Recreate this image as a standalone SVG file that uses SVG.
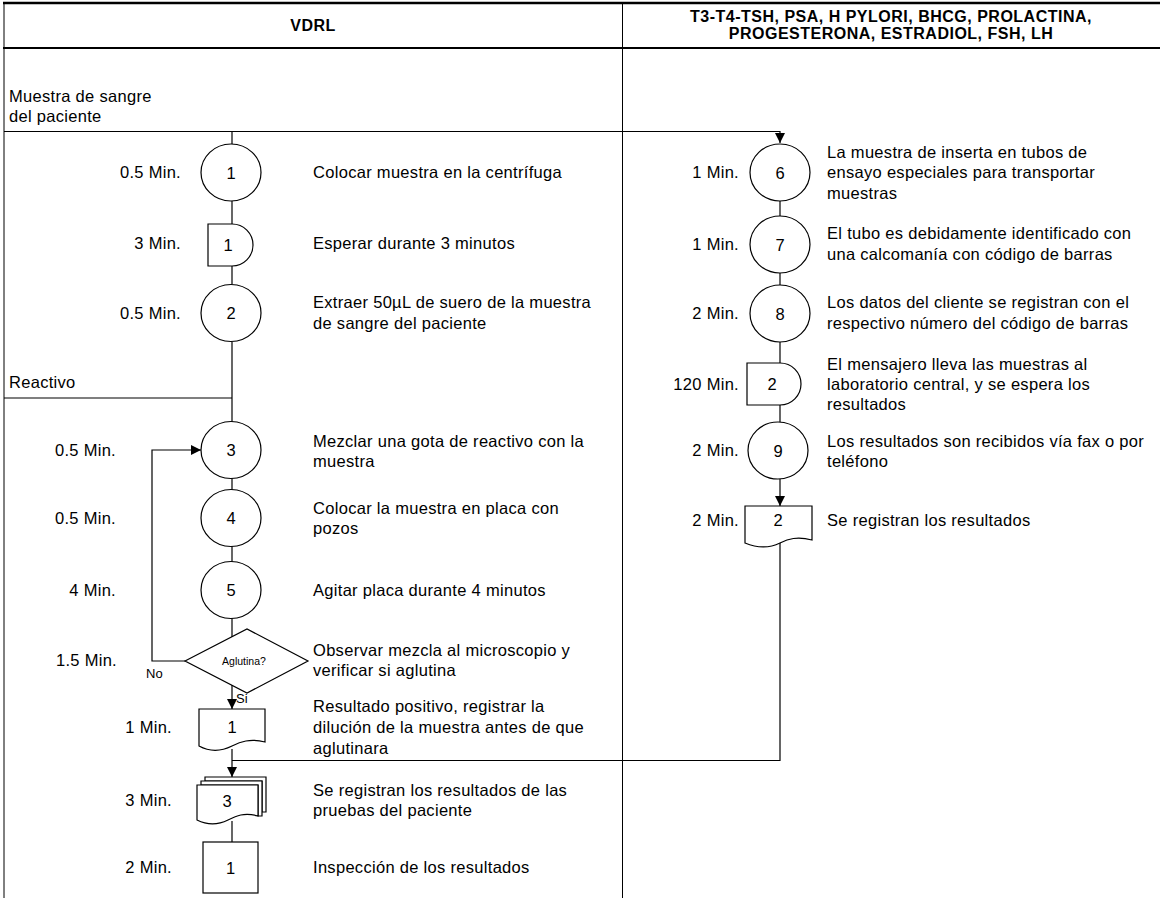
<svg xmlns="http://www.w3.org/2000/svg" width="1160" height="898" viewBox="0 0 1160 898">
<style>
text{font-family:"Liberation Sans",Arial,sans-serif;fill:#000}
.t{font-size:16.5px;letter-spacing:0.3px}
.tm{font-size:16.5px;letter-spacing:0.3px;text-anchor:end}
.n{font-size:16.5px;text-anchor:middle}
.h{font-size:16px;font-weight:bold;letter-spacing:0.5px;text-anchor:middle}
.l{font-size:13px}
.s{fill:#fff;stroke:#000;stroke-width:1.2}
.c{fill:none;stroke:#000;stroke-width:1.2}
.g{fill:none;stroke:#000;stroke-width:1}
</style>
<defs>
<marker id="ar" viewBox="0 0 10 10" refX="10" refY="5" markerWidth="10" markerHeight="10" markerUnits="userSpaceOnUse" orient="auto">
<path d="M0,0L10,5L0,10Z" fill="#000"/>
</marker>
</defs>
<rect width="1160" height="898" fill="#fff"/>
<g id="grid">
<line x1="3" y1="3" x2="1160" y2="3" stroke="#000" stroke-width="2.5"/>
<line x1="3" y1="48" x2="1160" y2="48" stroke="#000" stroke-width="2"/>
<line x1="4" y1="3" x2="4" y2="898" class="g"/>
<line x1="622.5" y1="3" x2="622.5" y2="898" class="g"/>
<text class="h" x="313" y="31">VDRL</text>
<text class="h" x="891" y="22">T3-T4-TSH, PSA, H PYLORI, BHCG, PROLACTINA,</text>
<text class="h" x="891" y="39">PROGESTERONA, ESTRADIOL, FSH, LH</text>
<text class="t" x="9" y="102">Muestra de sangre</text>
<text class="t" x="9" y="122">del paciente</text>
<text class="t" x="9" y="388">Reactivo</text>
</g>
<g id="connectors">
<polyline class="c" points="4,131.5 780,131.5 780,143" marker-end="url(#ar)"/>
<line class="c" x1="232" y1="131.5" x2="232" y2="144"/>
<line class="c" x1="232" y1="201" x2="232" y2="224"/>
<line class="c" x1="232" y1="266" x2="232" y2="284"/>
<polyline class="c" points="4,398 232,398"/>
<line class="c" x1="232" y1="342" x2="232" y2="422"/>
<line class="c" x1="232" y1="478" x2="232" y2="490"/>
<line class="c" x1="232" y1="546" x2="232" y2="562"/>
<line class="c" x1="232" y1="618" x2="232" y2="637"/>
<polyline class="c" points="185,661 152,661 152,450 201,450" marker-end="url(#ar)"/>
<line class="c" x1="232" y1="685" x2="232" y2="709" marker-end="url(#ar)"/>
<line class="c" x1="232" y1="749" x2="232" y2="777" marker-end="url(#ar)"/>
<polyline class="c" points="780,543 780,760.5 232,760.5"/>
<line class="c" x1="232" y1="821" x2="232" y2="842"/>
<line class="c" x1="780" y1="201" x2="780" y2="216"/>
<line class="c" x1="780" y1="273" x2="780" y2="285"/>
<line class="c" x1="780" y1="342" x2="780" y2="363"/>
<line class="c" x1="780" y1="405" x2="780" y2="422"/>
<line class="c" x1="780" y1="479" x2="780" y2="506" marker-end="url(#ar)"/>
<text class="l" x="146" y="678">No</text>
<text class="l" x="236" y="703">Si</text>
</g>
<g id="n1"><ellipse class="s" cx="231" cy="172.5" rx="30" ry="28.5"/><text class="n" x="231" y="178.5">1</text><text class="tm" x="181" y="178">0.5 Min.</text><text class="t" x="313" y="178">Colocar muestra en la centrífuga</text></g>
<g id="d1"><path class="s" d="M208,224H232A21,21 0 0 1 232,266H208Z"/><text class="n" x="228" y="251">1</text><text class="tm" x="181" y="249">3 Min.</text><text class="t" x="313" y="249">Esperar durante 3 minutos</text></g>
<g id="n2"><ellipse class="s" cx="231" cy="313" rx="30" ry="28.5"/><text class="n" x="231" y="319">2</text><text class="tm" x="181" y="319">0.5 Min.</text><text class="t" x="313" y="308">Extraer 50µL de suero de la muestra</text><text class="t" x="313" y="329">de sangre del paciente</text></g>
<g id="n3"><ellipse class="s" cx="231" cy="450" rx="30" ry="28.5"/><text class="n" x="231" y="456">3</text><text class="tm" x="116" y="456">0.5 Min.</text><text class="t" x="313" y="447">Mezclar una gota de reactivo con la</text><text class="t" x="313" y="467">muestra</text></g>
<g id="n4"><ellipse class="s" cx="231" cy="518" rx="30" ry="28.5"/><text class="n" x="231" y="524">4</text><text class="tm" x="116" y="524">0.5 Min.</text><text class="t" x="313" y="514">Colocar la muestra en placa con</text><text class="t" x="313" y="534">pozos</text></g>
<g id="n5"><ellipse class="s" cx="231" cy="590" rx="30" ry="28.5"/><text class="n" x="231" y="596">5</text><text class="tm" x="116" y="596">4 Min.</text><text class="t" x="313" y="596">Agitar placa durante 4 minutos</text></g>
<g id="q1"><path class="s" d="M185,661L247,629L308,661L247,693Z"/><text x="244" y="665" style="font-size:10.5px;text-anchor:middle">Aglutina?</text><text class="tm" x="117" y="666">1.5 Min.</text><text class="t" x="313" y="656">Observar mezcla al microscopio y</text><text class="t" x="313" y="676">verificar si aglutina</text></g>
<g id="doc1"><path class="s" d="M199,709H265V742C250,738 240,742 232,746C222,751 210,752 199,746Z"/><text class="n" x="232" y="733">1</text><text class="tm" x="172" y="733">1 Min.</text><text class="t" x="313" y="712">Resultado positivo, registrar la</text><text class="t" x="313" y="733">dilución de la muestra antes de que</text><text class="t" x="313" y="754">aglutinara</text></g>
<g id="doc3"><path class="s" d="M205,777H266V812H262V781H205Z"/><path class="s" d="M201,781H262V816H258V785H201Z"/><path class="s" d="M197,785H258V816C244,812 236,816 228,820C218,825 207,825 197,820Z"/><text class="n" x="227" y="807">3</text><text class="tm" x="172" y="806">3 Min.</text><text class="t" x="313" y="796">Se registran los resultados de las</text><text class="t" x="313" y="816">pruebas del paciente</text></g>
<g id="i1"><rect class="s" x="203" y="842" width="55" height="51"/><text class="n" x="230.5" y="874">1</text><text class="tm" x="172" y="873">2 Min.</text><text class="t" x="313" y="873">Inspección de los resultados</text></g>
<g id="n6"><ellipse class="s" cx="780" cy="172.5" rx="30" ry="28.5"/><text class="n" x="780" y="178.5">6</text><text class="tm" x="739" y="178">1 Min.</text><text class="t" x="827" y="158">La muestra de inserta en tubos de</text><text class="t" x="827" y="178">ensayo especiales para transportar</text><text class="t" x="827" y="199">muestras</text></g>
<g id="n7"><ellipse class="s" cx="780" cy="244.5" rx="30" ry="28.5"/><text class="n" x="780" y="250.5">7</text><text class="tm" x="739" y="250">1 Min.</text><text class="t" x="827" y="239">El tubo es debidamente identificado con</text><text class="t" x="827" y="260">una calcomanía con código de barras</text></g>
<g id="n8"><ellipse class="s" cx="780" cy="313.5" rx="30" ry="28.5"/><text class="n" x="780" y="319.5">8</text><text class="tm" x="739" y="319">2 Min.</text><text class="t" x="827" y="308">Los datos del cliente se registran con el</text><text class="t" x="827" y="329">respectivo número del código de barras</text></g>
<g id="d2"><path class="s" d="M747,363H780A21,21 0 0 1 780,405H747Z"/><text class="n" x="772" y="390">2</text><text class="tm" x="739" y="390">120 Min.</text><text class="t" x="827" y="370">El mensajero lleva las muestras al</text><text class="t" x="827" y="390">laboratorio central, y se espera los</text><text class="t" x="827" y="410">resultados</text></g>
<g id="n9"><ellipse class="s" cx="778" cy="450.5" rx="30" ry="28.5"/><text class="n" x="778" y="456.5">9</text><text class="tm" x="739" y="456">2 Min.</text><text class="t" x="827" y="447">Los resultados son recibidos vía fax o por</text><text class="t" x="827" y="467">teléfono</text></g>
<g id="doc2"><path class="s" d="M745,506H812V540C797,536 788,539 780,543C770,548 757,548 745,543Z"/><text class="n" x="778" y="526">2</text><text class="tm" x="739" y="526">2 Min.</text><text class="t" x="827" y="526">Se registran los resultados</text></g>
</svg>
